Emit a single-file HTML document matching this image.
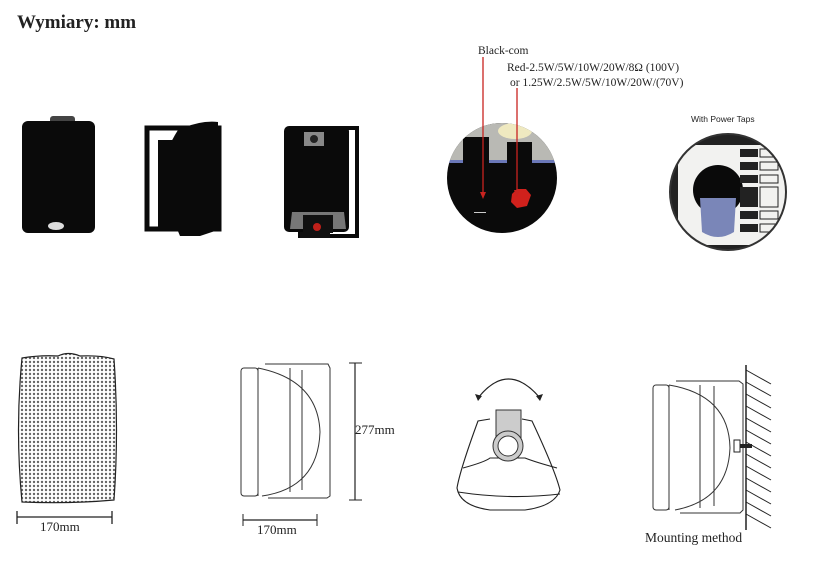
<!DOCTYPE html>
<html><head><meta charset="utf-8"><style>
html,body{margin:0;padding:0;background:#fff;}
svg{display:block;}
.s{font-family:"Liberation Serif",serif;fill:#222;}
</style></head><body>
<svg width="813" height="568" viewBox="0 0 813 568" xmlns="http://www.w3.org/2000/svg">
<defs>
<pattern id="grill" width="4" height="4" patternUnits="userSpaceOnUse">
<rect width="4" height="4" fill="#fff"/><circle cx="2" cy="2" r="1.2" fill="#666"/>
</pattern>
<clipPath id="c1"><circle cx="502" cy="178" r="55"/></clipPath>
<clipPath id="c2"><circle cx="728" cy="192" r="58"/></clipPath>
</defs>
<text x="17" y="28" class="s" font-size="19" font-weight="bold" fill="#111">Wymiary:  mm</text>

<!-- speaker 1 front -->
<rect x="50" y="116" width="25" height="8" rx="3" fill="#444"/>
<rect x="22" y="121" width="73" height="112" rx="6" fill="#0a0a0a"/>
<ellipse cx="56" cy="226" rx="8" ry="4" fill="#ddd"/>

<!-- speaker 2 side -->
<rect x="147" y="128" width="72" height="101" fill="none" stroke="#0a0a0a" stroke-width="5"/>
<path d="M178 130 Q200 120 218 122 L218 230 L200 236 L180 236 Q165 200 158 180 Q165 150 178 130 Z" fill="#0a0a0a"/>
<rect x="158" y="140" width="24" height="88" fill="#0a0a0a"/>

<!-- speaker 3 back -->
<rect x="300" y="128" width="57" height="108" fill="none" stroke="#0a0a0a" stroke-width="4"/>
<rect x="284" y="126" width="65" height="106" rx="5" fill="#0a0a0a"/>
<rect x="304" y="132" width="20" height="14" fill="#888"/>
<circle cx="314" cy="139" r="4" fill="#222"/>
<path d="M290 229 L292 212 L344 212 L346 229 Z" fill="#777"/>
<rect x="303" y="215" width="30" height="18" fill="#111"/>
<circle cx="317" cy="227" r="4" fill="#c0201a"/>
<rect x="300" y="232" width="30" height="6" fill="#111"/>

<!-- circle 1 terminal -->
<g clip-path="url(#c1)">
<rect x="447" y="123" width="110" height="111" fill="#0a0a0a"/>
<rect x="447" y="123" width="110" height="39" fill="#b9b9b4"/>
<rect x="447" y="160" width="110" height="3" fill="#6b78b8"/>
<ellipse cx="515" cy="131" rx="17" ry="8" fill="#efe9c0"/>
<rect x="463" y="137" width="26" height="26" fill="#0a0a0a"/>
<rect x="507" y="142" width="25" height="21" fill="#0a0a0a"/>
<polygon points="512,194 517,189 526,189 531,195 527,206 517,208 511,202" fill="#d0211c"/>
<rect x="474" y="212" width="12" height="1" fill="#ccc"/>
</g>
<line x1="483" y1="57" x2="483" y2="196" stroke="#c8231f" stroke-width="1.3"/>
<polygon points="480,192 486,192 483,199" fill="#c8231f"/>
<line x1="517" y1="88" x2="517" y2="194" stroke="#c8231f" stroke-width="1.3"/>
<polygon points="514,190 520,190 517,197" fill="#c8231f"/>
<text x="478" y="54" class="s" font-size="11.5">Black-com</text>
<text x="507" y="71" class="s" font-size="11.5">Red-2.5W/5W/10W/20W/8Ω (100V)</text>
<text x="510" y="86" class="s" font-size="11.5">or 1.25W/2.5W/5W/10W/20W/(70V)</text>

<!-- circle 2 taps -->
<text x="691" y="122" font-family="Liberation Sans,sans-serif" font-size="8.5" fill="#222">With Power Taps</text>
<g clip-path="url(#c2)">
<rect x="668" y="132" width="122" height="122" fill="#222"/>
<rect x="678" y="145" width="112" height="100" fill="#f2f2f0"/>
<circle cx="718" cy="190" r="25" fill="#0a0a0a"/>
<path d="M700 198 L736 198 L734 232 Q718 242 702 232 Z" fill="#7a86b8"/>
<rect x="740" y="149" width="18" height="8" fill="#222"/><rect x="760" y="149" width="18" height="8" fill="none" stroke="#222"/>
<rect x="740" y="162" width="18" height="8" fill="#222"/><rect x="760" y="162" width="18" height="8" fill="none" stroke="#222"/>
<rect x="740" y="175" width="18" height="8" fill="#222"/><rect x="760" y="175" width="18" height="8" fill="none" stroke="#222"/>
<rect x="740" y="187" width="18" height="20" fill="#222"/><rect x="760" y="187" width="18" height="20" fill="none" stroke="#222"/>
<rect x="740" y="211" width="18" height="8" fill="#222"/><rect x="760" y="211" width="18" height="8" fill="none" stroke="#222"/>
<rect x="740" y="224" width="18" height="8" fill="#222"/><rect x="760" y="224" width="18" height="8" fill="none" stroke="#222"/>
</g>
<circle cx="728" cy="192" r="58" fill="none" stroke="#333" stroke-width="2"/>

<!-- bottom: grille -->
<path d="M22 358 Q40 355 58 356 Q68 351 80 356 Q100 355 114 359 Q119 430 114 500 Q70 504 22 502 Q15 430 22 358 Z" fill="url(#grill)" stroke="#222" stroke-width="1.2"/>
<line x1="17" y1="517" x2="112" y2="517" stroke="#222" stroke-width="1.3"/>
<line x1="17" y1="511" x2="17" y2="524" stroke="#222" stroke-width="1.3"/>
<line x1="112" y1="511" x2="112" y2="524" stroke="#222" stroke-width="1.3"/>
<text x="40" y="531" class="s" font-size="13">170mm</text>

<!-- side drawing -->
<g fill="none" stroke="#333" stroke-width="1">
<rect x="241" y="368" width="17" height="128" rx="3"/>
<line x1="258" y1="368" x2="258" y2="496"/>
<path d="M258 368 Q318 380 320 432 Q318 488 262 496"/>
<path d="M265 364 L328 364 L330 368 L330 496 L327 498 L268 498"/>
<line x1="290" y1="368" x2="290" y2="492"/>
<line x1="302" y1="370" x2="302" y2="490"/>
</g>
<line x1="355" y1="363" x2="355" y2="500" stroke="#222" stroke-width="1.2"/>
<line x1="349" y1="363" x2="362" y2="363" stroke="#222"/>
<line x1="349" y1="500" x2="362" y2="500" stroke="#222"/>
<text x="355" y="434" class="s" font-size="13">277mm</text>
<line x1="243" y1="520" x2="317" y2="520" stroke="#222" stroke-width="1.2"/>
<line x1="243" y1="514" x2="243" y2="526" stroke="#222"/>
<line x1="317" y1="514" x2="317" y2="526" stroke="#222"/>
<text x="257" y="534" class="s" font-size="13">170mm</text>

<!-- swivel -->
<path d="M478 398 Q508 360 540 398" fill="none" stroke="#222" stroke-width="1.2"/>
<polygon points="475,394 482,396 478,401" fill="#222"/>
<polygon points="543,394 536,396 540,401" fill="#222"/>
<g fill="none" stroke="#222" stroke-width="1.1">
<path d="M490 419 L478 421 Q460 470 457 488 Q460 506 490 510 L525 510 Q555 506 560 490 Q555 470 532 421 L522 419"/>
<path d="M463 468 Q485 462 490 458 L525 458 Q535 462 557 468"/>
<path d="M458 492 Q510 500 560 494"/>
</g>
<rect x="496" y="410" width="25" height="30" fill="#ccc" stroke="#333"/>
<circle cx="508" cy="446" r="15" fill="#ccc" stroke="#333"/>
<circle cx="508" cy="446" r="10" fill="#fff" stroke="#333"/>

<!-- mounting -->
<g fill="none" stroke="#333" stroke-width="1">
<rect x="653" y="385" width="16" height="125" rx="3"/>
<line x1="669" y1="385" x2="669" y2="510"/>
<path d="M669 385 Q729 395 730 448 Q728 500 675 510"/>
<path d="M676 381 L739 381 L743 384 L743 510 L740 513 L680 513"/>
<line x1="700" y1="385" x2="700" y2="508"/>
<line x1="714" y1="386" x2="714" y2="506"/>
</g>
<rect x="734" y="440" width="6" height="12" fill="#fff" stroke="#222"/>
<rect x="740" y="444" width="12" height="4" fill="#222"/>
<line x1="746" y1="365" x2="746" y2="530" stroke="#222" stroke-width="1.5"/>
<g stroke="#222" stroke-width="1">
<line x1="746" y1="370" x2="771" y2="384"/><line x1="746" y1="382" x2="771" y2="396"/>
<line x1="746" y1="394" x2="771" y2="408"/><line x1="746" y1="406" x2="771" y2="420"/>
<line x1="746" y1="418" x2="771" y2="432"/><line x1="746" y1="430" x2="771" y2="444"/>
<line x1="746" y1="442" x2="771" y2="456"/><line x1="746" y1="454" x2="771" y2="468"/>
<line x1="746" y1="466" x2="771" y2="480"/><line x1="746" y1="478" x2="771" y2="492"/>
<line x1="746" y1="490" x2="771" y2="504"/><line x1="746" y1="502" x2="771" y2="516"/>
<line x1="746" y1="514" x2="771" y2="528"/>
</g>
<text x="645" y="542" class="s" font-size="13.5">Mounting method</text>
</svg>
</body></html>
